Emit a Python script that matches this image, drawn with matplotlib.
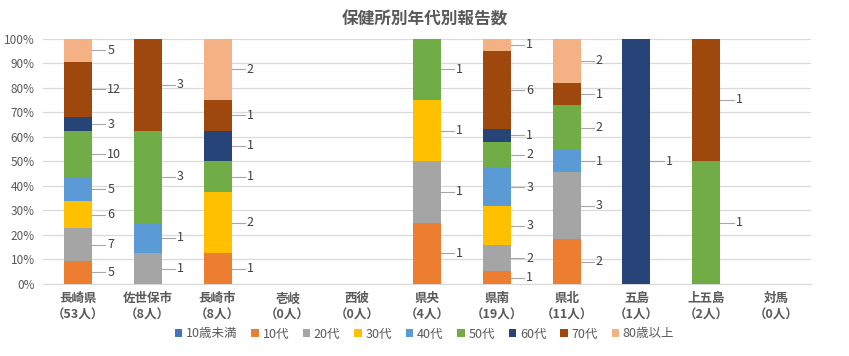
import matplotlib
matplotlib.use("Agg")
import matplotlib.pyplot as plt
import numpy as np

plt.rcParams['font.family'] = ['Noto Sans CJK JP', 'DejaVu Sans']

title = "保健所別年代別報告数"
regions = ["長崎県", "佐世保市", "長崎市", "壱岐", "西彼", "県央", "県南", "県北", "五島", "上五島", "対馬"]
series_names = ["10歳未満", "10代", "20代", "30代", "40代", "50代", "60代", "70代", "80歳以上"]
colors = ["#4472C4", "#ED7D31", "#A5A5A5", "#FFC000", "#5B9BD5", "#70AD47", "#264478", "#9E480E", "#F4B183"]

under10 = [0, 0, 0, 0, 0, 0, 0, 0, 0, 0, 0]
age10 = [5, 0, 1, 0, 0, 1, 1, 2, 0, 0, 0]
age20 = [7, 1, 0, 0, 0, 1, 2, 3, 0, 0, 0]
age30 = [6, 0, 2, 0, 0, 1, 3, 0, 0, 0, 0]
age40 = [5, 1, 0, 0, 0, 0, 3, 1, 0, 0, 0]
age50 = [10, 3, 1, 0, 0, 1, 2, 2, 0, 1, 0]
age60 = [3, 0, 1, 0, 0, 0, 1, 0, 1, 0, 0]
age70 = [12, 3, 1, 0, 0, 0, 6, 1, 0, 1, 0]
age80 = [5, 0, 2, 0, 0, 0, 1, 2, 0, 0, 0]

data = np.array([under10, age10, age20, age30, age40, age50, age60, age70, age80], dtype=float)
totals = data.sum(axis=0)
pct = np.divide(data, totals, out=np.zeros_like(data), where=totals > 0) * 100

fig = plt.figure(figsize=(8.49, 3.56), dpi=100)
ax = fig.add_axes([43/849, 1 - 284/356, (811-43)/849, (284-38.5)/356])

x = np.arange(len(regions))
bw = 0.4
bottom = np.zeros(len(regions))
txt_color = "#404040"
for i, name in enumerate(series_names):
    ax.bar(x, pct[i], bw, bottom=bottom, color=colors[i], label=name, zorder=3)
    for j in range(len(regions)):
        if data[i, j] > 0:
            yc = bottom[j] + pct[i, j] / 2
            x0 = x[j] + bw / 2
            ax.plot([x0, x0 + 0.19], [yc, yc], color="#A6A6A6", lw=0.8, zorder=4, clip_on=False)
            ax.text(x0 + 0.22, yc, f"{int(data[i, j])}", ha="left", va="center",
                    fontsize=9, color=txt_color, zorder=5)
    bottom += pct[i]

ax.set_xlim(-0.5, len(regions) - 0.5)
ax.set_ylim(0, 100)
ax.set_yticks(np.arange(0, 101, 10))
ax.set_yticklabels([f"{v}%" for v in range(0, 101, 10)], fontsize=8.5, color="#595959")
ax.yaxis.grid(True, color="#D9D9D9", lw=0.9, zorder=0)
ax.set_axisbelow(True)
ax.tick_params(axis="both", length=0)
ax.tick_params(axis="y", pad=6)
for s in ["top", "right", "left"]:
    ax.spines[s].set_visible(False)
ax.spines["bottom"].set_color("#D9D9D9")
ax.set_xticks(x)
ax.set_xticklabels([f"{r}\n（{int(t)}人）" for r, t in zip(regions, totals)],
                   fontsize=9, color="#595959", fontweight="bold", linespacing=1.3)
ax.tick_params(axis="x", pad=6)

fig.text(0.5, 1 - 20/356, title, ha="center", va="center", fontsize=12,
         color="#595959", fontweight="bold")

leg = fig.legend(loc="center", bbox_to_anchor=(0.5, 1 - 334/356), ncol=9, frameon=False,
                 fontsize=9, handlelength=0.6, handleheight=0.6, handletextpad=0.3,
                 columnspacing=1.1)
for t in leg.get_texts():
    t.set_color("#595959")

fig.savefig("out.png", dpi=100)
